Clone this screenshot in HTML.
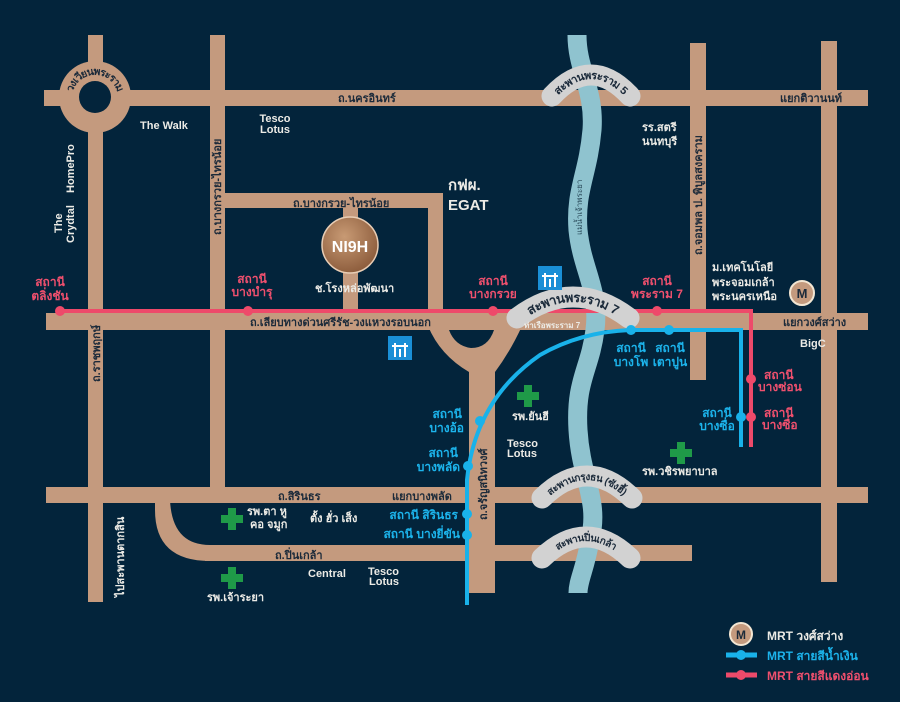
<!DOCTYPE html>
<html><head><meta charset="utf-8"><style>
html,body{margin:0;padding:0;background:#03243b;}
svg{display:block}
text{font-family:"Liberation Sans","Noto Sans CJK SC",sans-serif;font-weight:bold;}
.w{fill:#ecebe6;font-size:11px}
.d{fill:#1b2a3a;font-size:11px}
.r{fill:#f0506e;font-size:12px}
.b{fill:#1cb4ec;font-size:12px}
</style></head><body>
<svg width="900" height="702" viewBox="0 0 900 702" xmlns="http://www.w3.org/2000/svg">
<rect width="900" height="702" fill="#03243b"/>
<g fill="#c49a7e">
<rect x="44" y="90" width="824" height="16"/>
<rect x="46" y="313" width="822" height="17"/>
<rect x="46" y="487" width="822" height="16"/>
<rect x="205" y="545" width="487" height="16"/>
<rect x="225" y="193" width="218" height="15"/>
<rect x="88" y="35" width="15" height="567"/>
<rect x="210" y="35" width="15" height="460"/>
<rect x="428" y="193" width="15" height="125"/>
<rect x="343" y="208" width="15" height="105"/>
<rect x="690" y="43" width="16" height="337"/>
<rect x="821" y="41" width="16" height="541"/>
<circle cx="95" cy="97" r="36"/>
<path d="M155 500 L170 500 Q172 545 210 545 L210 561 Q155 561 155 510 Z"/>
<path d="M428 326 Q440 355 469 372 L469 593 L495 593 L495 372 Q510 352 522 326 Z"/>
</g>
<circle cx="95" cy="97" r="16" fill="#03243b"/>
<path d="M449 330 L494 330 Q488 348 471 348 Q455 346 449 330 Z" fill="#03243b"/>
<path d="M577 35 C577 70,595 90,592 130 C588 175,575 190,578 230 C582 270,600 290,595 330 C590 370,575 380,578 430 C581 480,600 500,590 540 C585 570,578 580,578 593" fill="none" stroke="#8fc3cf" stroke-width="19"/>
<path d="M60 311 L751 311 L751 447" fill="none" stroke="#ee4a6a" stroke-width="4"/>
<path d="M467 605 L467 480 Q475 400 540 355 Q580 332 630 330 L741 330 L741 447" fill="none" stroke="#19b2ea" stroke-width="4"/>
<g fill="none" stroke="#d2d2d2" stroke-width="21" stroke-linecap="round">
<path id="b5" d="M552 96 Q591 54 630 96"/>
<path id="b7" d="M517 318 Q573 276 629 318"/>
<path id="bk" d="M542 498 Q587 454 632 498"/>
<path id="bp" d="M542 558 Q586 516 630 558"/>
</g>
<text class="d" dy="4"><textPath href="#b5" startOffset="50%" text-anchor="middle">สะพานพระราม 5</textPath></text>
<text class="d" style="font-size:13px" dy="5"><textPath href="#b7" startOffset="50%" text-anchor="middle">สะพานพระราม 7</textPath></text>
<text class="d" style="font-size:10px" dy="4"><textPath href="#bk" startOffset="50%" text-anchor="middle">สะพานกรุงธน (ซังฮี้)</textPath></text>
<text class="d" style="font-size:10px" dy="4"><textPath href="#bp" startOffset="50%" text-anchor="middle">สะพานปิ่นเกล้า</textPath></text>
<path id="rb" d="M70 108 A27 27 0 1 1 120 108" fill="none"/>
<text class="d" style="font-size:10.5px" dy="4"><textPath href="#rb" startOffset="50%" text-anchor="middle">วงเวียนพระราม</textPath></text>
<g fill="#ee4a6a"><circle cx="60" cy="311" r="5"/><circle cx="248" cy="311" r="5"/><circle cx="493" cy="311" r="5"/><circle cx="657" cy="311" r="5"/><circle cx="751" cy="379" r="5"/><circle cx="751" cy="417" r="5"/></g>
<g fill="#19b2ea"><circle cx="631" cy="330" r="5"/><circle cx="669" cy="330" r="5"/><circle cx="741" cy="417" r="5"/><circle cx="480" cy="421" r="5"/><circle cx="468" cy="466" r="5"/><circle cx="467" cy="514" r="5"/><circle cx="467" cy="535" r="5"/></g>
<g><rect x="538" y="266" width="24" height="24" fill="#1a8fd6"/><rect x="388" y="336" width="24" height="24" fill="#1a8fd6"/>
<path d="M542 276 h16 M545 273 v14 M555 273 v14 M550 279 v8 M392 346 h16 M395 343 v14 M405 343 v14 M400 349 v8" stroke="#fff" stroke-width="2"/></g>
<g fill="#1f9a48">
<path d="M524 385 h8 v7 h7 v8 h-7 v7 h-8 v-7 h-7 v-8 h7z"/>
<path d="M228 508 h8 v7 h7 v8 h-7 v7 h-8 v-7 h-7 v-8 h7z"/>
<path d="M228 567 h8 v7 h7 v8 h-7 v7 h-8 v-7 h-7 v-8 h7z"/>
<path d="M677 442 h8 v7 h7 v8 h-7 v7 h-8 v-7 h-7 v-8 h7z"/>
</g>
<defs><radialGradient id="lg" cx="40%" cy="35%" r="70%"><stop offset="0" stop-color="#c89a74"/><stop offset="1" stop-color="#8a5a3a"/></radialGradient></defs>
<circle cx="350" cy="245" r="28" fill="url(#lg)" stroke="#e8cdb5" stroke-width="1.5"/>
<text x="350" y="252" fill="#fff" style="font-size:16px" text-anchor="middle">NI9H</text>
<circle cx="802" cy="293" r="12" fill="#c49a7e" stroke="#f3e6d3" stroke-width="2"/>
<text x="802" y="298" class="d" style="font-size:13px" text-anchor="middle">M</text>
<text x="338" y="102" class="d">ถ.นครอินทร์</text>
<text x="780" y="102" class="d">แยกติวานนท์</text>
<text x="293" y="207" class="d">ถ.บางกรวย-ไทรน้อย</text>
<text x="250" y="326" class="d">ถ.เลียบทางด่วนศรีรัช-วงแหวงรอบนอก</text>
<text x="783" y="326" class="d">แยกวงศ์สว่าง</text>
<text x="278" y="500" class="d">ถ.สิรินธร</text>
<text x="392" y="500" class="d">แยกบางพลัด</text>
<text x="275" y="559" class="d">ถ.ปิ่นเกล้า</text>
<text transform="translate(221,235) rotate(-90)" class="d">ถ.บางกรวย-ไทรน้อย</text>
<text transform="translate(100,382) rotate(-90)" class="d">ถ.ราชพฤกษ์</text>
<text transform="translate(702,255) rotate(-90)" class="d">ถ.จอมพล ป. พิบูลสงคราม</text>
<text transform="translate(487,520) rotate(-90)" class="d">ถ.จรัญสนิทวงศ์</text>
<text transform="translate(582,235) rotate(-90)" fill="#2a4a5a" style="font-size:8px;font-weight:normal">แม่น้ำเจ้าพระยา</text>
<text x="140" y="129" class="w">The Walk</text>
<text x="275" y="122" class="w" text-anchor="middle">Tesco</text><text x="275" y="133" class="w" text-anchor="middle">Lotus</text>
<text transform="translate(62,233) rotate(-90)" class="w">The</text>
<text transform="translate(74,243) rotate(-90)" class="w">Crydtal</text>
<text transform="translate(74,193) rotate(-90)" class="w">HomePro</text>
<text x="315" y="292" class="w">ช.โรงหล่อพัฒนา</text>
<text x="448" y="190" class="w" style="font-size:15px">กฟผ.</text>
<text x="448" y="210" class="w" style="font-size:15px">EGAT</text>
<text x="642" y="131" class="w">รร.สตรี</text><text x="642" y="145" class="w">นนทบุรี</text>
<text x="712" y="271" class="w">ม.เทคโนโลยี</text><text x="712" y="286" class="w">พระจอมเกล้า</text><text x="712" y="300" class="w">พระนครเหนือ</text>
<text x="800" y="347" class="w">BigC</text>
<text x="524" y="328" class="w" style="font-size:8px">ท่าเรือพระราม 7</text>
<text x="512" y="420" class="w">รพ.ยันฮี</text>
<text x="507" y="447" class="w">Tesco</text><text x="507" y="457" class="w">Lotus</text>
<text x="642" y="475" class="w">รพ.วชิรพยาบาล</text>
<text x="247" y="515" class="w">รพ.ตา หู</text><text x="250" y="528" class="w">คอ จมูก</text>
<text x="310" y="522" class="w">ตั้ง ฮั่ว เส็ง</text>
<text x="308" y="577" class="w">Central</text>
<text x="368" y="575" class="w">Tesco</text><text x="369" y="585" class="w">Lotus</text>
<text x="207" y="601" class="w">รพ.เจ้าระยา</text>
<text transform="translate(124,597) rotate(-90)" class="w">ไปสะพานตากสิน</text>
<g text-anchor="middle">
<text x="50" y="286" class="r">สถานี</text><text x="50" y="300" class="r">ตลิ่งชัน</text>
<text x="252" y="283" class="r">สถานี</text><text x="252" y="296" class="r">บางบำรุ</text>
<text x="493" y="285" class="r">สถานี</text><text x="493" y="298" class="r">บางกรวย</text>
<text x="657" y="285" class="r">สถานี</text><text x="657" y="298" class="r">พระราม 7</text>
</g>
<text x="764" y="379" class="r">สถานี</text><text x="758" y="391" class="r">บางซ่อน</text>
<text x="764" y="417" class="r">สถานี</text><text x="762" y="429" class="r">บางซื่อ</text>
<g text-anchor="middle">
<text x="631" y="352" class="b">สถานี</text><text x="631" y="366" class="b">บางโพ</text>
<text x="670" y="352" class="b">สถานี</text><text x="670" y="366" class="b">เตาปูน</text>
<text x="717" y="417" class="b">สถานี</text><text x="717" y="430" class="b">บางซื่อ</text>
</g>
<g text-anchor="end">
<text x="462" y="418" class="b">สถานี</text><text x="464" y="432" class="b">บางอ้อ</text>
<text x="458" y="457" class="b">สถานี</text><text x="460" y="471" class="b">บางพลัด</text>
<text x="458" y="519" class="b">สถานี สิรินธร</text>
<text x="460" y="538" class="b">สถานี บางยี่ขัน</text>
</g>
<circle cx="741" cy="634" r="11" fill="#c49a7e" stroke="#f3e6d3" stroke-width="2"/>
<text x="741" y="639" class="d" style="font-size:12px" text-anchor="middle">M</text>
<text x="767" y="640" class="w" style="font-size:12px">MRT วงศ์สว่าง</text>
<line x1="726" y1="655" x2="757" y2="655" stroke="#19b2ea" stroke-width="5"/><circle cx="741" cy="655" r="5" fill="#19b2ea"/>
<text x="767" y="660" class="b" style="font-size:12px">MRT สายสีน้ำเงิน</text>
<line x1="726" y1="675" x2="757" y2="675" stroke="#ee4a6a" stroke-width="5"/><circle cx="741" cy="675" r="5" fill="#ee4a6a"/>
<text x="767" y="680" class="r" style="font-size:12px">MRT สายสีแดงอ่อน</text>
</svg>
</body></html>
